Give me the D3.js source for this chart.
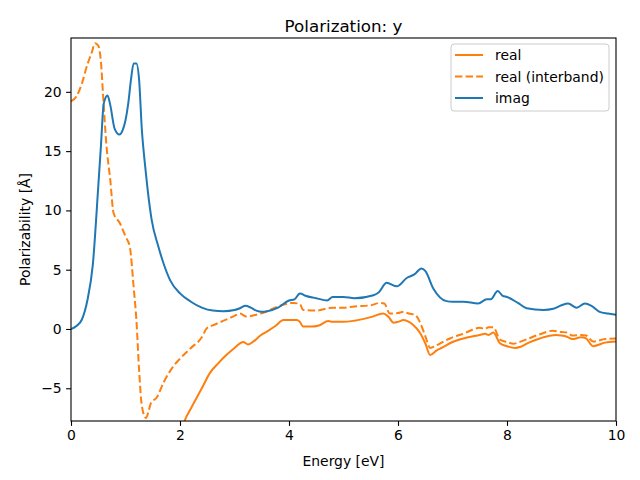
<!DOCTYPE html>
<html><head><meta charset="utf-8">
<script src="https://cdn.jsdelivr.net/npm/d3@7"></script>
<style>body{margin:0;background:#fff}text{font-family:"DejaVu Sans",sans-serif}</style>
</head><body><svg id="c" width="640" height="480"></svg>
<script>
const imagE = [0,0.1,0.2,0.3,0.4,0.5,0.55,0.6,0.67,0.72,0.8,0.89,0.95,1.0,1.05,1.1,1.15,1.2,1.25,1.3,1.35,1.4,1.48,1.6,1.7,1.82,2.0,2.2,2.4,2.6,2.8,3.0,3.1,3.2,3.3,3.4,3.5,3.6,3.8,4.0,4.1,4.2,4.3,4.5,4.7,4.8,5.0,5.2,5.55,5.65,5.79,5.98,6.16,6.3,6.43,6.5,6.65,6.89,7.0,7.2,7.47,7.63,7.7,7.83,7.92,8.0,8.2,8.36,8.67,8.85,9.0,9.12,9.28,9.43,9.55,9.7,9.85,10];
const imagV = [0,0.25,0.8,2.4,5.4,12,15.5,19.0,19.7,18.9,16.9,16.4,16.8,17.6,19,21,22.4,22.4,21,16.8,14.2,12,9.2,7,5.5,4.1,3,2.3,1.8,1.55,1.5,1.6,1.75,1.95,1.8,1.55,1.45,1.5,1.8,2.4,2.5,3.0,2.8,2.6,2.4,2.7,2.7,2.6,2.85,3.1,3.9,3.6,4.3,4.6,5.1,4.9,3.4,2.35,2.3,2.3,2.15,2.5,2.5,3.2,2.8,2.7,2.2,1.75,1.6,1.7,2.0,2.15,1.8,2.15,1.95,1.45,1.3,1.2];
const interE = [0,0.1,0.2,0.3,0.38,0.44,0.5,0.55,0.59,0.65,0.72,0.78,0.9,1.0,1.08,1.15,1.2,1.25,1.3,1.376,1.42,1.47,1.57,1.7,1.87,2.0,2.2,2.4,2.49,2.6,2.8,3.0,3.1,3.22,3.4,3.6,3.8,4.08,4.2,4.26,4.5,4.72,4.8,5.0,5.2,5.5,5.67,5.75,5.85,6.0,6.1,6.2,6.31,6.4,6.5,6.59,6.7,6.8,6.95,7.2,7.5,7.6,7.66,7.75,7.87,8.0,8.12,8.2,8.4,8.6,8.84,9.0,9.1,9.2,9.36,9.45,9.58,9.8,10];
const interV = [19.2,19.6,20.7,22.3,23.3,24.1,23.9,22.5,19.6,15.5,12.6,9.8,8.9,7.8,6.9,3.5,0.75,-3.5,-6.5,-7.5,-7.0,-6.2,-5.8,-4.5,-3.2,-2.5,-1.6,-0.7,0.05,0.3,0.7,1.1,1.3,1.05,1.2,1.5,1.9,2.2,2.1,1.6,1.55,1.75,1.8,1.8,1.9,2.0,2.2,2.15,1.3,1.35,1.45,1.3,1.2,0.6,-0.6,-1.6,-1.4,-1.15,-0.8,-0.4,0.1,0.0,0.15,0.15,-0.9,-1.1,-1.25,-1.15,-0.8,-0.45,-0.15,-0.25,-0.3,-0.55,-0.5,-0.55,-1.05,-0.85,-0.8];
const realE = [1.8,2.0,2.08,2.2,2.4,2.55,2.7,2.85,3.0,3.16,3.25,3.35,3.47,3.6,3.75,3.9,4.0,4.14,4.2,4.26,4.4,4.55,4.72,4.8,5.0,5.2,5.5,5.73,5.82,5.92,6.0,6.1,6.2,6.28,6.4,6.5,6.59,6.71,6.8,7.0,7.2,7.5,7.6,7.66,7.75,7.87,8.0,8.15,8.25,8.4,8.6,8.9,9.0,9.1,9.2,9.36,9.45,9.58,9.8,10];
const realV = [-12,-9,-7.8,-6.7,-5.0,-3.7,-2.9,-2.2,-1.6,-1.1,-1.3,-1.05,-0.57,-0.2,0.25,0.75,0.75,0.75,0.6,0.2,0.2,0.3,0.67,0.6,0.6,0.7,1.0,1.3,1.05,0.53,0.6,0.75,0.6,0.34,-0.3,-1.2,-2.2,-1.8,-1.6,-1.1,-0.8,-0.5,-0.4,-0.5,-0.3,-1.2,-1.45,-1.6,-1.5,-1.15,-0.8,-0.5,-0.55,-0.65,-0.85,-0.7,-0.8,-1.45,-1.15,-1.05];
const xTicks = [0,2,4,6,8,10];
const yTicks = [-5,0,5,10,15,20];
const legendLabels = ["real","real (interband)","imag"];

const svg = d3.select("#c");
const L=71, R=616, T=38, B=421;
const x = d3.scaleLinear().domain([0,10]).range([L,R]);
const y = d3.scaleLinear().domain([-7.76,24.54]).range([B,T]);
const orange="#ff7f0e", blue="#1f77b4";

svg.append("defs").append("clipPath").attr("id","clip").append("rect")
  .attr("x",L).attr("y",T).attr("width",R-L).attr("height",B-T);

const line = d3.line().x(d=>x(d[0])).y(d=>y(d[1])).curve(d3.curveMonotoneX);
const g = svg.append("g").attr("clip-path","url(#clip)");
g.append("path").datum(d3.zip(realE,realV)).attr("d",line).attr("fill","none").attr("stroke",orange).attr("stroke-width",2);
g.append("path").datum(d3.zip(interE,interV)).attr("d",line).attr("fill","none").attr("stroke",orange).attr("stroke-width",2).attr("stroke-dasharray","7.4,3.2");
g.append("path").datum(d3.zip(imagE,imagV)).attr("d",line).attr("fill","none").attr("stroke",blue).attr("stroke-width",2);

const xa = svg.append("g").attr("transform",`translate(0,${B})`).call(d3.axisBottom(x).tickValues(xTicks).tickSize(4.9).tickPadding(4.5).tickFormat(d3.format("d")));
const ya = svg.append("g").attr("transform",`translate(${L},0)`).call(d3.axisLeft(y).tickValues(yTicks).tickSize(4.9).tickPadding(4.5).tickFormat(d=>d<0?"\u2212"+Math.abs(d):d));
[xa,ya].forEach(a=>{a.select(".domain").remove();a.selectAll("line").attr("stroke","#000").attr("stroke-width",1.1);a.selectAll("text").attr("font-size",13.9).attr("fill","#000").style("font-family","DejaVu Sans");});
svg.append("rect").attr("x",L).attr("y",T).attr("width",R-L).attr("height",B-T).attr("fill","none").attr("stroke","#000").attr("stroke-width",1.1);

svg.append("text").attr("x",(L+R)/2).attr("y",T-6).attr("text-anchor","middle").attr("font-size",16.7).text("Polarization: y");
svg.append("text").attr("x",(L+R)/2).attr("y",466).attr("text-anchor","middle").attr("font-size",13.9).text("Energy [eV]");
svg.append("text").attr("transform",`translate(30,${(T+B)/2}) rotate(-90)`).attr("text-anchor","middle").attr("font-size",13.9).text("Polarizability [Å]");

const lg = svg.append("g");
lg.append("rect").attr("x",451).attr("y",44).attr("width",158).attr("height",67).attr("rx",3).attr("fill","#fff").attr("fill-opacity",0.8).attr("stroke","#ccc").attr("stroke-width",1);
const styles=[{c:orange,d:null},{c:orange,d:"7.4,3.2"},{c:blue,d:null}];
legendLabels.forEach((t,i)=>{
  const yy = 55+i*21.5;
  lg.append("line").attr("x1",455).attr("x2",483).attr("y1",yy).attr("y2",yy).attr("stroke",styles[i].c).attr("stroke-width",2).attr("stroke-dasharray",styles[i].d);
  lg.append("text").attr("x",495).attr("y",yy+5).attr("font-size",13.9).text(t);
});
</script></body></html>
